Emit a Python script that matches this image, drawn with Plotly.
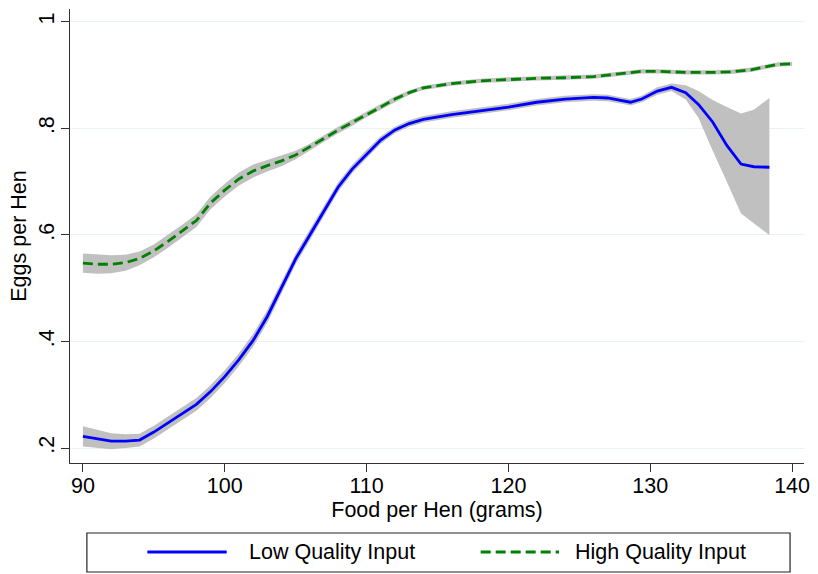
import plotly.graph_objects as go

# ---- data ----
low_x = [90, 91, 92, 93, 94, 95, 96, 97, 98, 99, 100, 101, 102, 103, 104, 105, 106, 107, 108, 109,
         110, 111, 112, 113, 114, 116, 118, 120, 122, 124, 126, 127, 128, 128.6, 129.4, 130.5,
         131.5, 132.5, 133.4, 134.4, 135.4, 136.4, 137.3, 138.4]
low_y = [0.222, 0.217, 0.213, 0.213, 0.215, 0.230, 0.247, 0.264, 0.282, 0.306, 0.334, 0.366,
         0.402, 0.447, 0.500, 0.555, 0.600, 0.645, 0.690, 0.724, 0.752, 0.778, 0.797, 0.809,
         0.817, 0.826, 0.833, 0.840, 0.849, 0.855, 0.858, 0.857, 0.852, 0.849, 0.855, 0.870,
         0.877, 0.867, 0.845, 0.812, 0.768, 0.733, 0.728, 0.727]
low_hi = [0.241, 0.234, 0.228, 0.226, 0.227, 0.242, 0.259, 0.276, 0.294, 0.318, 0.346, 0.378,
          0.414, 0.459, 0.511, 0.565, 0.610, 0.655, 0.699, 0.732, 0.760, 0.785, 0.803, 0.815,
          0.823, 0.832, 0.839, 0.846, 0.855, 0.861, 0.864, 0.863, 0.858, 0.855, 0.861, 0.877,
          0.884, 0.881, 0.870, 0.853, 0.840, 0.828, 0.835, 0.857]
low_lo = [0.203, 0.200, 0.198, 0.200, 0.203, 0.218, 0.235, 0.252, 0.270, 0.294, 0.322, 0.354,
          0.390, 0.435, 0.489, 0.545, 0.590, 0.635, 0.681, 0.716, 0.744, 0.771, 0.791, 0.803,
          0.811, 0.820, 0.827, 0.834, 0.843, 0.849, 0.852, 0.851, 0.846, 0.843, 0.849, 0.863,
          0.870, 0.854, 0.820, 0.758, 0.700, 0.640, 0.622, 0.600]

high_x = [90, 91, 92, 93, 94, 95, 96, 97, 98, 99, 100, 101, 102, 103, 104, 105, 106, 107, 108,
          109, 110, 111, 112, 113, 114, 116, 118, 120, 122, 124, 126, 127, 128.5, 129.4, 130.6,
          132.5, 134.3, 135.7, 137.1, 138.3, 139, 140]
high_y = [0.547, 0.545, 0.545, 0.548, 0.556, 0.570, 0.588, 0.607, 0.627, 0.660, 0.684, 0.705,
          0.720, 0.730, 0.739, 0.750, 0.765, 0.781, 0.797, 0.811, 0.826, 0.840, 0.855, 0.867,
          0.876, 0.884, 0.889, 0.892, 0.894, 0.895, 0.897, 0.900, 0.905, 0.907, 0.907, 0.905,
          0.905, 0.906, 0.910, 0.917, 0.920, 0.921]
high_hw = [0.018, 0.018, 0.017, 0.015, 0.013, 0.012, 0.012, 0.012, 0.012, 0.012, 0.012, 0.012,
           0.012, 0.011, 0.010, 0.008, 0.006, 0.006, 0.006, 0.006, 0.005, 0.005, 0.005, 0.004,
           0.004, 0.004, 0.004, 0.004, 0.004, 0.004, 0.004, 0.004, 0.004, 0.004, 0.004, 0.004,
           0.004, 0.004, 0.004, 0.004, 0.004, 0.004]

y_ticks = [0.2, 0.4, 0.6, 0.8, 1.0]
y_ticktext = [".2", ".4", ".6", ".8", "1"]
x_ticks = [90, 100, 110, 120, 130, 140]

high_hi = [y + h for y, h in zip(high_y, high_hw)]
high_lo = [y - h for y, h in zip(high_y, high_hw)]

FONT = "Liberation Sans, Arial, Helvetica, sans-serif"
FS = 21.5
BAND = "#c0c0c0"
DASH = "10px,5px"

fig = go.Figure()

for xs, hi, lo in [(low_x, low_hi, low_lo), (high_x, high_hi, high_lo)]:
    fig.add_trace(go.Scatter(x=xs, y=hi, mode="lines", line=dict(width=0, color=BAND),
                             showlegend=False, hoverinfo="skip"))
    fig.add_trace(go.Scatter(x=xs, y=lo, mode="lines", line=dict(width=0, color=BAND),
                             fill="tonexty", fillcolor=BAND, showlegend=False, hoverinfo="skip"))

fig.add_trace(go.Scatter(x=low_x, y=low_y, mode="lines", name="Low Quality Input",
                         line=dict(color="#0000ff", width=2.8)))
fig.add_trace(go.Scatter(x=high_x, y=high_y, mode="lines", name="High Quality Input",
                         line=dict(color="#008000", width=2.8, dash=DASH)))

# legend drawn as a box below the plot (paper coordinates of the plot area)
fig.add_shape(type="rect", xref="paper", yref="paper", x0=0.023, x1=0.981, y0=-0.2401, y1=-0.1542,
              line=dict(color="#222222", width=1.2), fillcolor="white")
fig.add_shape(type="line", xref="paper", yref="paper", x0=0.1054, x1=0.2135, y0=-0.196, y1=-0.196,
              line=dict(color="#0000ff", width=2.8))
fig.add_shape(type="line", xref="paper", yref="paper", x0=0.5595, x1=0.6662, y0=-0.196, y1=-0.196,
              line=dict(color="#008000", width=2.8, dash=DASH))
fig.add_annotation(xref="paper", yref="paper", x=0.2405, y=-0.196, xanchor="left", yanchor="middle",
                   text="Low Quality Input", showarrow=False, font=dict(size=FS, color="#000000", family=FONT))
fig.add_annotation(xref="paper", yref="paper", x=0.6851, y=-0.196, xanchor="left", yanchor="middle",
                   text="High Quality Input", showarrow=False, font=dict(size=FS, color="#000000", family=FONT))

fig.update_layout(
    width=818, height=574,
    margin=dict(l=70, r=8, t=9, b=111),
    paper_bgcolor="white", plot_bgcolor="white",
    showlegend=False,
    font=dict(family=FONT, size=FS, color="#000000"),
    xaxis=dict(range=[89.09, 140.84], tickvals=x_ticks, showgrid=False, zeroline=False,
               showline=True, linecolor="#333333", linewidth=1.3, ticks="outside", ticklen=8,
               tickcolor="#333333", tickwidth=1.2, ticklabelstandoff=-5,
               title=dict(text="Food per Hen (grams)", standoff=0, font=dict(size=FS))),
    yaxis=dict(range=[0.172, 1.024], tickvals=y_ticks, ticktext=y_ticktext, tickangle=-90,
               showgrid=True, gridcolor="#eaf2f3", gridwidth=1.2, zeroline=False,
               showline=True, linecolor="#333333", linewidth=1.3, ticks="outside", ticklen=8,
               tickcolor="#333333", tickwidth=1.2, ticklabelstandoff=-2,
               title=dict(text="Eggs per Hen", standoff=2, font=dict(size=FS))),
)

fig.write_html("out.html")
